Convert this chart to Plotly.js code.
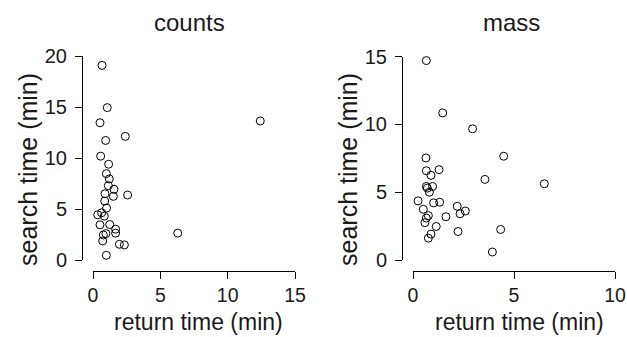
<!DOCTYPE html>
<html>
<head>
<meta charset="utf-8">
<script src="https://cdn.plot.ly/plotly-3.0.1.min.js"></script>
<style>html,body{margin:0;padding:0;background:#fff;}#chart{width:627px;height:337px;}</style>
</head>
<body>
<div id="chart"></div>
<script>
// counts panel: return time (min) vs search time (min)
const countsReturn = [0.67, 1.06, 0.52, 12.42, 2.40, 0.94, 0.57, 1.16, 0.99, 1.21, 1.14, 1.56, 2.57, 0.89, 1.51, 0.87, 1.01, 0.64, 0.35, 0.84, 0.52, 1.24, 1.68, 1.68, 0.77, 0.96, 0.72, 6.29, 1.96, 2.33, 0.99];
const countsSearch = [19.08, 14.94, 13.46, 13.63, 12.12, 11.72, 10.18, 9.39, 8.47, 7.95, 7.29, 6.93, 6.37, 6.50, 6.24, 5.78, 5.09, 4.63, 4.43, 4.30, 3.45, 3.48, 3.02, 2.63, 2.46, 2.59, 1.87, 2.63, 1.54, 1.48, 0.46];
// mass panel
const massReturn = [0.66, 1.47, 2.95, 4.49, 0.64, 0.66, 1.29, 0.89, 3.56, 6.50, 0.66, 0.97, 0.71, 0.81, 0.25, 1.02, 1.32, 2.19, 0.51, 2.59, 2.33, 0.76, 1.63, 0.66, 0.59, 1.15, 4.34, 2.23, 0.89, 0.76, 3.93];
const massSearch = [14.70, 10.84, 9.67, 7.65, 7.52, 6.58, 6.66, 6.24, 5.94, 5.62, 5.42, 5.42, 5.30, 5.00, 4.36, 4.21, 4.26, 3.96, 3.74, 3.61, 3.41, 3.27, 3.19, 3.09, 2.75, 2.47, 2.25, 2.10, 1.91, 1.61, 0.59];

const panelTitles = ["counts", "mass"];
const xTitle = "return time (min)";
const yTitle = "search time (min)";
const countsXTicks = [0, 5, 10, 15];
const countsYTicks = [0, 5, 10, 15, 20];
const massXTicks = [0, 5, 10];
const massYTicks = [0, 5, 10, 15];

const W = 627, H = 337;
const FONT = "Liberation Sans, Arial, Helvetica, sans-serif";
const INK = "#1a1a1a";

const marker = {symbol: "circle-open", size: 8, color: "#000", line: {width: 1, color: "#000"}};

const traces = [
  {x: countsReturn, y: countsSearch, type: "scatter", mode: "markers", marker: marker, xaxis: "x", yaxis: "y", cliponaxis: false, hoverinfo: "x+y"},
  {x: massReturn, y: massSearch, type: "scatter", mode: "markers", marker: marker, xaxis: "x2", yaxis: "y2", cliponaxis: false, hoverinfo: "x+y"}
];

function px(v) { return v / W; }
function py(v) { return 1 - v / H; }

function axisBase(ticks, fontSize) {
  return {
    tickmode: "array", tickvals: ticks, ticktext: ticks.map(String),
    showline: true, linecolor: "#000", linewidth: 1,
    ticks: "outside", ticklen: 7, tickwidth: 1, tickcolor: "#000",
    showgrid: false, zeroline: false, anchor: "free",
    tickfont: {family: FONT, size: fontSize, color: INK},
    fixedrange: true
  };
}

const layout = {
  width: W, height: H,
  margin: {l: 0, r: 0, t: 0, b: 0},
  paper_bgcolor: "#fff", plot_bgcolor: "rgba(0,0,0,0)",
  showlegend: false,
  font: {family: FONT, color: INK},
  xaxis: Object.assign(axisBase(countsXTicks, 19.5), {range: [0, 15], domain: [px(93), px(295)], position: py(271)}),
  yaxis: Object.assign(axisBase(countsYTicks, 20), {range: [0, 20], domain: [py(260), py(56)], position: px(82), ticklabelstandoff: 4}),
  xaxis2: Object.assign(axisBase(massXTicks, 19.5), {range: [0, 10], domain: [px(413), px(615)], position: py(271)}),
  yaxis2: Object.assign(axisBase(massYTicks, 20), {range: [0, 15], domain: [py(260), py(56.5)], position: px(402), ticklabelstandoff: 4}),
  annotations: [
    {text: panelTitles[0], x: px(189), y: py(22), xref: "paper", yref: "paper", showarrow: false, xanchor: "center", yanchor: "middle", font: {family: FONT, size: 24, color: INK}},
    {text: panelTitles[1], x: px(511), y: py(22), xref: "paper", yref: "paper", showarrow: false, xanchor: "center", yanchor: "middle", font: {family: FONT, size: 24, color: INK}},
    {text: xTitle, x: px(198), y: py(322), xref: "paper", yref: "paper", showarrow: false, xanchor: "center", yanchor: "middle", font: {family: FONT, size: 23, color: INK}},
    {text: xTitle, x: px(519), y: py(322), xref: "paper", yref: "paper", showarrow: false, xanchor: "center", yanchor: "middle", font: {family: FONT, size: 23, color: INK}},
    {text: yTitle, x: px(28), y: py(170), xref: "paper", yref: "paper", showarrow: false, xanchor: "center", yanchor: "middle", textangle: -90, font: {family: FONT, size: 25, color: INK}},
    {text: yTitle, x: px(348), y: py(170), xref: "paper", yref: "paper", showarrow: false, xanchor: "center", yanchor: "middle", textangle: -90, font: {family: FONT, size: 25, color: INK}}
  ]
};

Plotly.newPlot("chart", traces, layout, {displayModeBar: false, staticPlot: true});
</script>
</body>
</html>
